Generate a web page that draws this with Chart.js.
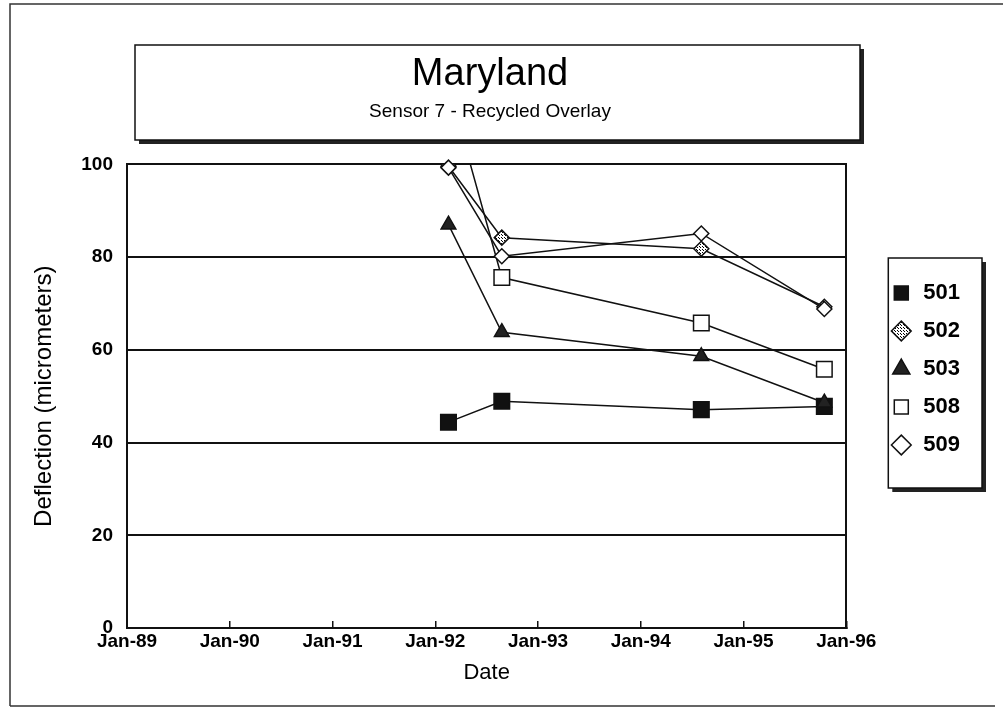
<!DOCTYPE html>
<html>
<head>
<meta charset="utf-8">
<title>Maryland - Sensor 7 - Recycled Overlay</title>
<script src="https://cdn.jsdelivr.net/npm/chart.js@4.4.1/dist/chart.umd.min.js"></script>
<style>
  html, body { margin: 0; padding: 0; background: #fff; }
</style>
</head>
<body>
<canvas id="chart" width="1003" height="723"></canvas>
<script>
// survey dates and deflections per section
const surveyDates = ['1992-02-17', '1992-08-25', '1994-08-04', '1995-10-15'];
const sectionNames = ['501', '502', '503', '508', '509'];
const defl501 = [44.4, 48.9, 47.1, 47.8];
const defl502 = [99.6, 84.2, 81.8, 69.3];
const defl503 = [87.0, 63.8, 58.6, 48.6];
const defl508 = [117.0, 75.6, 65.8, 55.8];
const defl509 = [99.3, 80.2, 85.1, 68.8];
const yearTicks = [1989, 1990, 1991, 1992, 1993, 1994, 1995, 1996];
const deflTicks = [0, 20, 40, 60, 80, 100];

const FONT = "'Liberation Sans', Arial, sans-serif";
const INK = '#111';

// date string -> decimal year, so a plain linear axis can be used
function toYear(iso) {
    const d = new Date(iso + 'T00:00:00Z');
    const y = d.getUTCFullYear();
    const start = Date.UTC(y, 0, 1);
    const end = Date.UTC(y + 1, 0, 1);
    return y + (d.getTime() - start) / (end - start);
}

function points(values) {
    return values.map((v, i) => ({ x: toYear(surveyDates[i]), y: v }));
}

// hatched fill for the 502 diamonds
function hatch() {
    const c = document.createElement('canvas');
    c.width = 3; c.height = 3;
    const g = c.getContext('2d');
    g.fillStyle = '#fff';
    g.fillRect(0, 0, 3, 3);
    g.fillStyle = '#000';
    g.fillRect(0, 0, 1, 1);
    g.fillRect(1, 1, 1, 1);
    return g.createPattern(c, 'repeat');
}

const ctx = document.getElementById('chart').getContext('2d');
const hatchFill = hatch();

// later sections are painted on top, like the original spreadsheet chart
function series(idx, values, style, radius, fill, clip) {
    return {
        label: sectionNames[idx],
        data: points(values),
        order: sectionNames.length - idx,
        borderColor: INK,
        borderWidth: 1.5,
        tension: 0,
        pointStyle: style,
        pointRadius: radius,
        pointBackgroundColor: fill,
        pointBorderColor: INK,
        pointBorderWidth: 1.5,
        clip: clip
    };
}

const datasets = [
    series(0, defl501, 'rect', 11, INK, undefined),
    series(1, defl502, 'rectRot', 7.5, hatchFill, 0),
    series(2, defl503, 'triangle', 8.5, '#222', undefined),
    series(3, defl508, 'rect', 11, '#fff', 0),
    series(4, defl509, 'rectRot', 7.5, '#fff', false)
];

function box(c, l, t, r, b, shadow) {
    if (shadow) {
        c.fillStyle = '#222';
        c.fillRect(r, t + 4, 4, b - t);
        c.fillRect(l + 4, b, r - l, 4);
    }
    c.strokeStyle = INK;
    c.lineWidth = 1.5;
    c.strokeRect(l, t, r - l, b - t);
}

const framePlugin = {
    id: 'frames',
    beforeDraw(chart) {
        const c = chart.ctx;
        c.save();
        c.fillStyle = '#fff';
        c.fillRect(0, 0, chart.width, chart.height);
        // outer page border
        c.strokeStyle = '#333';
        c.lineWidth = 1.5;
        c.beginPath();
        c.moveTo(10, 706); c.lineTo(10, 4); c.lineTo(1003, 4);
        c.moveTo(10, 706); c.lineTo(995, 706);
        c.stroke();
        // title frame
        box(c, 135, 45, 860, 140, true);
        // legend frame around the legend items
        const hb = chart.legend.legendHitBoxes;
        if (hb && hb.length) {
            const first = hb[0], last = hb[hb.length - 1];
            const right = Math.max(...hb.map(h => h.left + h.width));
            box(c, first.left - 2, first.top - 24, right + 22, last.top + 54, true);
        }
        c.restore();
    }
};

new Chart(ctx, {
    type: 'line',
    data: { datasets: datasets },
    plugins: [framePlugin],
    options: {
        responsive: false,
        animation: false,
        devicePixelRatio: 1,
        layout: { padding: { left: 10, right: 33, top: 0, bottom: 25 } },
        plugins: {
            tooltip: { enabled: false },
            title: {
                display: true,
                text: 'Maryland',
                color: '#000',
                font: { family: FONT, size: 38, weight: 'normal' },
                padding: { top: 52, bottom: 3 }
            },
            subtitle: {
                display: true,
                text: 'Sensor 7 - Recycled Overlay',
                color: '#000',
                font: { family: FONT, size: 19, weight: 'normal' },
                padding: { top: 0, bottom: 41 }
            },
            legend: {
                position: 'right',
                align: 'center',
                title: { display: true, text: '', font: { size: 10 }, padding: { top: 28, bottom: 0 } },
                labels: {
                    usePointStyle: true,
                    boxHeight: 14,
                    padding: 16,
                    color: '#000',
                    font: { family: FONT, size: 22, weight: 'bold' },
                    sort: (a, b) => a.datasetIndex - b.datasetIndex
                }
            }
        },
        scales: {
            x: {
                type: 'linear',
                min: 1989,
                max: 1996,
                afterBuildTicks: scale => { scale.ticks = yearTicks.map(v => ({ value: v })); },
                afterFit: scale => { scale.height = 70; },
                grid: { drawOnChartArea: false, drawTicks: true, tickLength: -7, color: INK, lineWidth: 1.5 },
                border: { display: true, color: INK, width: 2 },
                ticks: {
                    padding: 9,
                    color: '#000',
                    font: { family: FONT, size: 19, weight: 'bold' },
                    maxRotation: 0,
                    callback: v => 'Jan-' + String(v).slice(2)
                },
                title: {
                    display: true,
                    text: 'Date',
                    color: '#000',
                    font: { family: FONT, size: 22 },
                    padding: { top: 0, bottom: 12 }
                }
            },
            y: {
                min: 0,
                max: 100,
                afterBuildTicks: scale => { scale.ticks = deflTicks.map(v => ({ value: v })); },
                afterFit: scale => { scale.width = 117; },
                grid: { color: INK, lineWidth: 2, drawTicks: false },
                border: { display: true, color: INK, width: 2 },
                ticks: { padding: 14, color: '#000', font: { family: FONT, size: 19, weight: 'bold' } },
                title: {
                    display: true,
                    text: 'Deflection (micrometers)',
                    color: '#000',
                    font: { family: FONT, size: 24 },
                    padding: { top: 20, bottom: 0 }
                }
            },
            // right edge of the plot frame, and the gap before the legend
            frameRight: {
                position: 'right',
                min: 0,
                max: 100,
                afterFit: scale => { scale.width = 28; },
                grid: { drawOnChartArea: false, drawTicks: false },
                border: { display: true, color: INK, width: 2 },
                ticks: { display: false }
            }
        }
    }
});
</script>
</body>
</html>
